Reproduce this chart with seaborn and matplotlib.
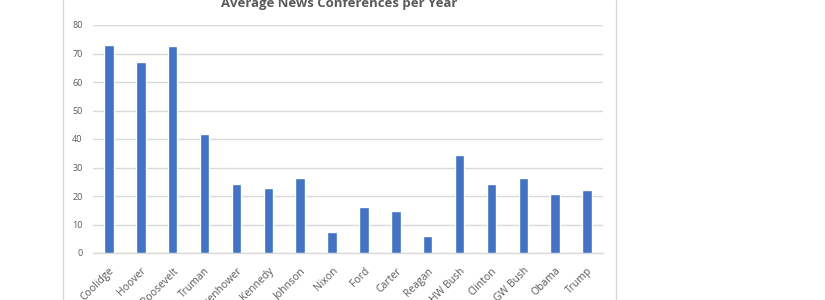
import matplotlib
matplotlib.use("Agg")
import matplotlib.pyplot as plt
import seaborn as sns
import pandas as pd
from matplotlib.lines import Line2D

presidents = ["Coolidge", "Hoover", "Roosevelt", "Truman", "Eisenhower", "Kennedy",
              "Johnson", "Nixon", "Ford", "Carter", "Reagan", "HW Bush", "Clinton",
              "GW Bush", "Obama", "Trump"]
conferences = [73.0, 67.1, 72.8, 41.8, 24.3, 22.9, 26.2, 7.2, 16.3, 14.8, 5.8,
               34.3, 24.3, 26.4, 20.7, 22.0]
yticks = [0, 10, 20, 30, 40, 50, 60, 70, 80]
title = "Average News Conferences per Year"

df = pd.DataFrame({"President": presidents, "Conferences": conferences})

sns.set_theme(style="white")
plt.rcParams["font.family"] = ["Open Sans", "DejaVu Sans"]

grey = "#595959"
fig = plt.figure(figsize=(8.25, 3.0), dpi=100)
ax = fig.add_axes([93 / 825, 47 / 300, 510 / 825, 228 / 300])

sns.barplot(data=df, x="President", y="Conferences", color="#4472C4",
            width=0.30, saturation=1, ax=ax, zorder=3)

ax.set_ylim(0, 80)
ax.set_xlim(-0.5, len(presidents) - 0.5)
ax.set_yticks(yticks)
ax.set_yticklabels([str(t) for t in yticks], color=grey, fontsize=6.5)
ax.yaxis.grid(True, color="#d9d9d9", linewidth=1, zorder=0)
ax.set_axisbelow(True)
ax.set_xlabel("")
ax.set_ylabel("")
for s in ["top", "right", "left"]:
    ax.spines[s].set_visible(False)
ax.spines["bottom"].set_color("#d9d9d9")
ax.spines["bottom"].set_linewidth(1)
ax.tick_params(axis="y", length=0, pad=7.5)

# category labels, rotated
ax.set_xticks(range(len(presidents)))
ax.set_xticklabels(presidents, rotation=45, ha="right", rotation_mode="anchor",
                   color=grey, fontsize=7.5)
ax.tick_params(axis="x", which="major", length=0, pad=9)
# boundary tick marks
ax.set_xticks([i - 0.5 for i in range(len(presidents) + 1)], minor=True)
ax.tick_params(axis="x", which="minor", length=3.5, color="#d9d9d9", width=1, direction="out")

t = fig.text(339 / 825, 1 - 6.5 / 300, title, ha="center",
             va="baseline", fontsize=10, fontweight="bold", color=grey)
renderer = fig.canvas.get_renderer()
w = t.get_window_extent(renderer).width
t.set_fontsize(10 * 235 / w)

# chart area borders
for xpx in (63, 616):
    fig.add_artist(Line2D([xpx / 825, xpx / 825], [0, 1], color="#d9d9d9", linewidth=1))

fig.savefig("out.png", dpi=100, facecolor="white")
